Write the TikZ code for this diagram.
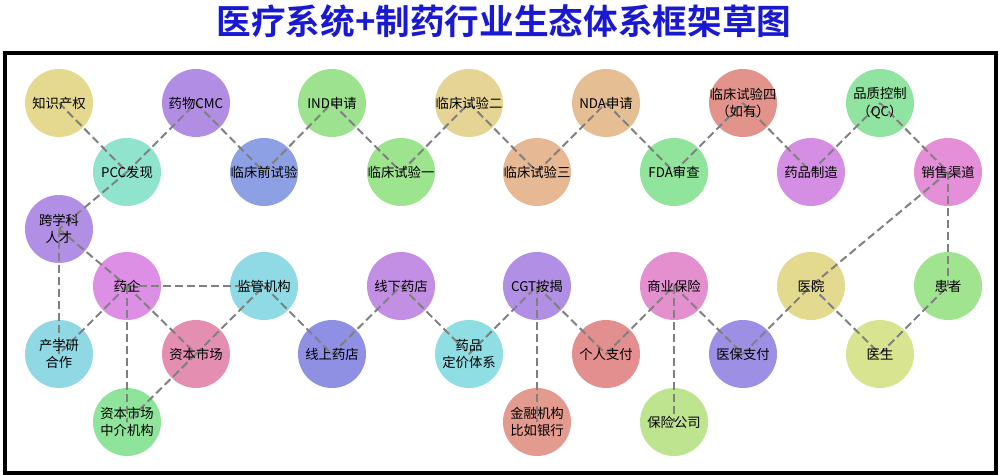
\documentclass[tikz,border=0pt]{standalone}
\usepackage{fontspec}
\newfontfamily\cjk{Noto Sans CJK SC}
\newfontfamily\cjkb{Noto Sans CJK SC Bold}
\pgfdeclarelayer{back}
\pgfdeclarelayer{mid}
\pgfsetlayers{back,mid,main}
\definecolor{titleblue}{RGB}{25,25,210}
\definecolor{edgegray}{RGB}{128,128,128}
\tikzset{
  ball/.style={circle, minimum size=51pt, inner sep=0pt, align=center,
    font=\cjk\fontsize{10pt}{13pt}\selectfont, text=black},
  link/.style={draw=edgegray, line width=1.5pt, dash pattern=on 6pt off 3pt},
  frame/.style={draw=black, line width=2.3pt},
}
\begin{document}
\begin{tikzpicture}[x=0.75pt, y=-0.75pt]
\useasboundingbox (0,0) rectangle (1000,475);
\node[font=\cjkb\fontsize{26pt}{30pt}\selectfont, text=titleblue] (title) at (504,21) {医疗系统+制药行业生态体系框架草图};
\draw[frame] (5,53) rectangle (996,473);
% row 1
\node[ball] (ip) at (59,103) {知识产权};
\node[ball] (cmc) at (196,103) {药物CMC};
\node[ball] (ind) at (332,103) {IND申请};
\node[ball] (c2) at (469,103) {临床试验二};
\node[ball] (nda) at (606,103) {NDA申请};
\node[ball] (c4) at (743,103) {临床试验四\\（如有）};
\node[ball] (qc) at (880,103) {品质控制\\（QC）};
% row 2
\node[ball] (pcc) at (127,172) {PCC发现};
\node[ball] (pre) at (264,172) {临床前试验};
\node[ball] (c1) at (401,172) {临床试验一};
\node[ball] (c3) at (537,172) {临床试验三};
\node[ball] (fda) at (674,172) {FDA审查};
\node[ball] (mfg) at (811,172) {药品制造};
\node[ball] (sales) at (948,172) {销售渠道};
% row 3
\node[ball] (talent) at (59,229) {跨学科\\人才};
% row 4
\node[ball] (pharma) at (127,286) {药企};
\node[ball] (reg) at (264,286) {监管机构};
\node[ball] (offline) at (401,286) {线下药店};
\node[ball] (cgt) at (537,286) {CGT按揭};
\node[ball] (ins) at (674,286) {商业保险};
\node[ball] (hosp) at (811,286) {医院};
\node[ball] (patient) at (948,286) {患者};
% row 5
\node[ball] (iur) at (59,354) {产学研\\合作};
\node[ball] (capital) at (196,354) {资本市场};
\node[ball] (online) at (332,354) {线上药店};
\node[ball] (pricing) at (469,354) {药品\\定价体系};
\node[ball] (self) at (606,354) {个人支付};
\node[ball] (medpay) at (743,354) {医保支付};
\node[ball] (doctor) at (880,354) {医生};
% row 6
\node[ball] (agency) at (127,422) {资本市场\\中介机构};
\node[ball] (bank) at (537,422) {金融机构\\比如银行};
\node[ball] (inscorp) at (674,422) {保险公司};

\begin{pgfonlayer}{back}
\foreach \n/\c in {ip/E5D98F, cmc/B18EE4, ind/9DE28F, c2/E5D494, nda/E6BE93,
  c4/E2948C, qc/90E3A0, pcc/90E4CE, pre/8EA0E4, c1/9DE48F, c3/E6B893,
  fda/90E49B, mfg/D48FE4, sales/E48FD8, talent/B18FE4, pharma/DC8FE4,
  reg/8FDAE4, offline/C28FE4, cgt/B18FE4, ins/E48FCE, hosp/E4DA8F,
  patient/A0E48F, iur/8FD8E4, capital/E48FB2, online/8F8FE4, pricing/8FDEE4,
  self/E48F8F, medpay/9D8FE4, doctor/D8E48F, agency/8FE49B, bank/E49B8F,
  inscorp/BEE48F}{
  \definecolor{tmpfill}{HTML}{\c}
  \fill[tmpfill] (\n.center) circle[radius=25.5pt];
}
\end{pgfonlayer}

\begin{pgfonlayer}{mid}
\foreach \a/\b in {ip/pcc, pcc/cmc, pcc/talent, cmc/pre, pre/ind, ind/c1,
  c1/c2, c2/c3, c3/nda, nda/fda, fda/c4, c4/mfg, mfg/qc, qc/sales,
  sales/hosp, sales/patient, talent/pharma, talent/iur, pharma/iur,
  pharma/reg, pharma/capital, pharma/agency, capital/reg, capital/agency,
  reg/online, online/offline, offline/pricing, pricing/cgt, cgt/self,
  cgt/bank, self/ins, ins/inscorp, ins/medpay, medpay/hosp, hosp/doctor,
  doctor/patient}{
  \draw[link] (\a.center) -- (\b.center);
}
\end{pgfonlayer}
\end{tikzpicture}
\end{document}
